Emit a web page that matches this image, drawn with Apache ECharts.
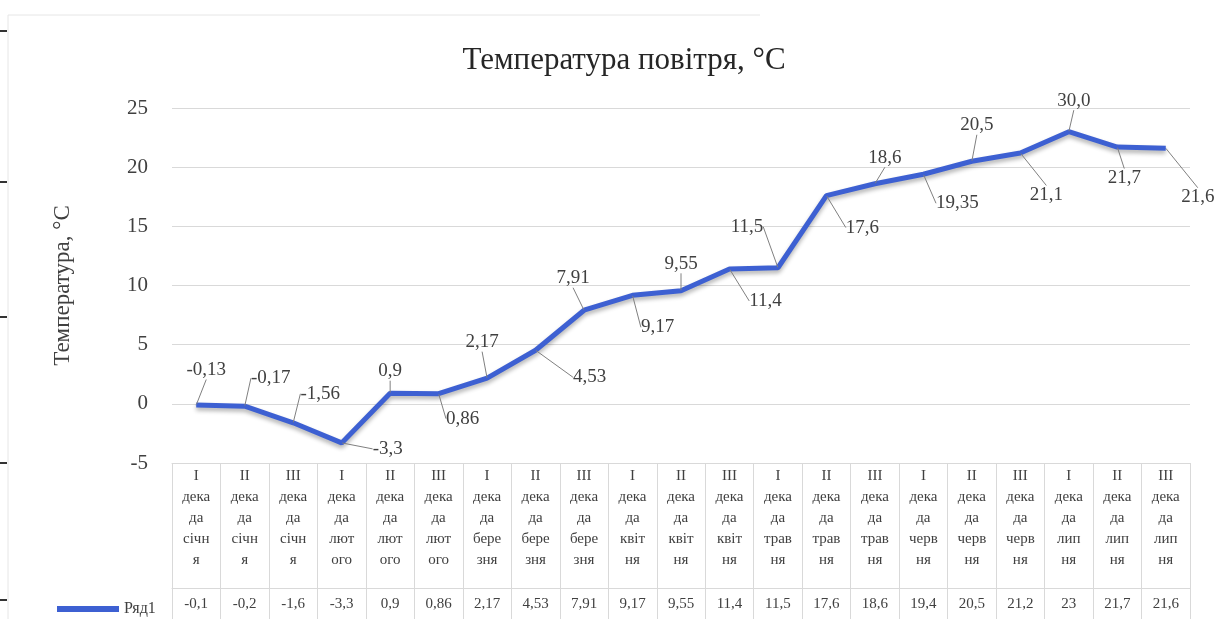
<!DOCTYPE html>
<html>
<head>
<meta charset="utf-8">
<script src="https://cdn.jsdelivr.net/npm/echarts@6/dist/echarts.min.js"></script>
<style>
  html, body { margin: 0; padding: 0; background: #fff; }
  #chart { width: 1219px; height: 619px; }
</style>
</head>
<body>
<div id="chart"></div>
<script>
// decades, wrapped the way the data table shows them
const categories = [
  'I\nдека\nда\nсічн\nя', 'II\nдека\nда\nсічн\nя', 'III\nдека\nда\nсічн\nя',
  'I\nдека\nда\nлют\nого', 'II\nдека\nда\nлют\nого', 'III\nдека\nда\nлют\nого',
  'I\nдека\nда\nбере\nзня', 'II\nдека\nда\nбере\nзня', 'III\nдека\nда\nбере\nзня',
  'I\nдека\nда\nквіт\nня', 'II\nдека\nда\nквіт\nня', 'III\nдека\nда\nквіт\nня',
  'I\nдека\nда\nтрав\nня', 'II\nдека\nда\nтрав\nня', 'III\nдека\nда\nтрав\nня',
  'I\nдека\nда\nчерв\nня', 'II\nдека\nда\nчерв\nня', 'III\nдека\nда\nчерв\nня',
  'I\nдека\nда\nлип\nня', 'II\nдека\nда\nлип\nня', 'III\nдека\nда\nлип\nня'
]
const temps = [-0.1, -0.2, -1.6, -3.3, 0.9, 0.86, 2.17, 4.53, 7.91, 9.17, 9.55,
  11.4, 11.5, 17.6, 18.6, 19.4, 20.5, 21.2, 23, 21.7, 21.6]
// data labels as printed on the chart (they differ from the table in places)
const pointLabels = ['-0,13', '-0,17', '-1,56', '-3,3', '0,9', '0,86', '2,17', '4,53',
  '7,91', '9,17', '9,55', '11,4', '11,5', '17,6', '18,6', '19,35', '20,5', '21,1',
  '30,0', '21,7', '21,6']
const yTicks = { min: -5, max: 25, step: 5 }
const seriesName = 'Ряд1'

// where each data label sits relative to its point (px)
const labelShift = [
  [10, -35], [26, -28], [27, -29], [46, 6], [0, -22], [24, 25], [-5, -36],
  [54, 27], [-11, -32], [25, 32], [0, -27], [36, 32], [-31, -41], [36, 32],
  [10, -26], [34, 29], [5, -36], [26, 42], [5, -31], [7, 31], [32, 49]
]

const serif = '"Liberation Serif", "DejaVu Serif", serif'
const txt = '#404040'
const gridCol = '#d9d9d9'
const comma = v => String(v).replace('.', ',')

const chart = echarts.init(document.getElementById('chart'))

chart.setOption({
  backgroundColor: '#fff',
  animation: false,
  title: {
    text: 'Температура повітря, °C',
    left: 619,
    top: 40,
    textAlign: 'center',
    textStyle: { fontFamily: serif, fontSize: 31, fontWeight: 'normal', color: '#262626' }
  },
  legend: {
    data: [seriesName],
    left: 52,
    top: 596,
    icon: 'rect',
    itemWidth: 62,
    itemHeight: 6,
    itemGap: 4,
    textStyle: { fontFamily: serif, fontSize: 16, color: txt }
  },
  grid: { left: 172, right: 29, top: 108, bottom: 156 },
  xAxis: [
    {
      type: 'category',
      data: categories,
      boundaryGap: true,
      axisLine: { show: true, onZero: false, lineStyle: { color: gridCol } },
      axisTick: { show: true, interval: 0, length: 156, lineStyle: { color: gridCol } },
      axisLabel: {
        interval: 0, margin: 3, lineHeight: 21,
        fontFamily: serif, fontSize: 15, color: txt
      }
    },
    {
      type: 'category',
      data: categories,
      position: 'bottom',
      offset: 125,
      axisLine: { show: true, onZero: false, lineStyle: { color: gridCol } },
      axisTick: { show: false },
      axisLabel: {
        interval: 0, margin: 9,
        fontFamily: serif, fontSize: 15, color: txt,
        formatter: (v, i) => comma(temps[i])
      }
    }
  ],
  yAxis: {
    type: 'value',
    min: yTicks.min,
    max: yTicks.max,
    interval: yTicks.step,
    name: 'Температура, °C',
    nameLocation: 'middle',
    nameGap: 98,
    nameTextStyle: { fontFamily: serif, fontSize: 23, color: txt },
    axisLine: { show: false },
    axisTick: { show: false },
    axisLabel: { margin: 24, fontFamily: serif, fontSize: 21, color: txt },
    splitLine: { lineStyle: { color: gridCol, width: 1 } }
  },
  series: [{
    name: seriesName,
    type: 'line',
    data: temps,
    xAxisIndex: 0,
    symbol: 'circle',
    symbolSize: 1,
    itemStyle: { color: '#3d60d2' },
    lineStyle: {
      color: '#3d60d2', width: 5,
      shadowColor: 'rgba(0,0,0,0.3)', shadowBlur: 4, shadowOffsetY: 3
    },
    label: {
      show: true,
      position: 'inside',
      fontFamily: serif,
      fontSize: 19,
      color: txt,
      formatter: p => pointLabels[p.dataIndex]
    },
    labelLine: { show: true, lineStyle: { color: '#808080', width: 1 } },
    labelLayout: p => {
      const s = labelShift[p.dataIndex]
      return { dx: s[0], dy: s[1] }
    }
  }],
  graphic: [
    // faint outer frame and page edge marks from the scan
    { type: 'polyline', shape: { points: [[8, 619], [8, 15], [760, 15]] },
      style: { stroke: '#e6e6e6', lineWidth: 1, fill: null } },
    { type: 'line', shape: { x1: 0, y1: 31, x2: 7, y2: 31 }, style: { stroke: '#333', lineWidth: 2 } },
    { type: 'line', shape: { x1: 0, y1: 182, x2: 7, y2: 182 }, style: { stroke: '#333', lineWidth: 2 } },
    { type: 'line', shape: { x1: 0, y1: 317, x2: 7, y2: 317 }, style: { stroke: '#333', lineWidth: 2 } },
    { type: 'line', shape: { x1: 0, y1: 463, x2: 7, y2: 463 }, style: { stroke: '#333', lineWidth: 2 } },
    { type: 'line', shape: { x1: 0, y1: 600, x2: 7, y2: 600 }, style: { stroke: '#333', lineWidth: 2 } }
  ]
})

window.addEventListener('resize', () => chart.resize())
</script>
</body>
</html>
